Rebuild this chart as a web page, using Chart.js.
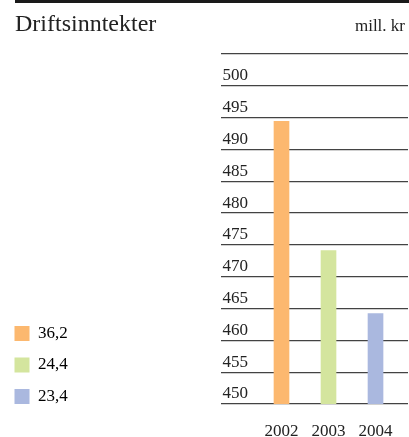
<!DOCTYPE html>
<html>
<head>
<meta charset="utf-8">
<script src="https://cdn.jsdelivr.net/npm/chart.js@4/dist/chart.umd.min.js"></script>
<style>
  html, body { margin: 0; padding: 0; background: #fff; }
  #wrap { position: relative; width: 409px; height: 437px; overflow: hidden; }
  #topline { position: absolute; left: 15px; right: 0; top: 0; height: 3px; background: #1a1a1a; }
  .head { position: absolute; font-family: "Liberation Serif", serif; color: #222; white-space: nowrap; }
  #title { left: 15px; top: 11px; font-size: 24px; line-height: 24px; }
  #unit { right: 4px; top: 17px; font-size: 17px; line-height: 17px; }
  canvas { position: absolute; left: 0; top: 0; }
</style>
</head>
<body>
<div id="wrap">
  <canvas id="chart" width="409" height="437"></canvas>
  <div id="topline"></div>
  <div class="head" id="title">Driftsinntekter</div>
  <div class="head" id="unit">mill. kr</div>
</div>
<script>
// data
const years = ['2002', '2003', '2004'];
const values = [494.4, 474.1, 464.2];
const legendLabels = ['36,2', '24,4', '23,4'];
const colors = ['#FCB86F', '#D4E59E', '#AAB8DF'];
const yMin = 450;
const yMax = 505;
const yStep = 5;

const serif = "'Liberation Serif', 'Times New Roman', serif";

const ctx = document.getElementById('chart');

new Chart(ctx, {
  type: 'bar',
  data: {
    datasets: [{
      data: values.map((v, i) => ({ x: i, y: v })),
      backgroundColor: colors,
      borderWidth: 0,
      barThickness: 15
    }]
  },
  options: {
    responsive: false,
    animation: false,
    layout: { padding: { top: 54, right: 1, bottom: 17.5, left: 0 } },
    plugins: {
      tooltip: { enabled: false },
      legend: {
        position: 'left',
        align: 'end',
        onClick: null,
        labels: {
          boxWidth: 15,
          boxHeight: 15,
          padding: 14.5,
          color: '#222',
          font: { family: serif, size: 17 },
          generateLabels: () => legendLabels.map((t, i) => ({
            text: t,
            fillStyle: colors[i],
            strokeStyle: colors[i],
            lineWidth: 0,
            hidden: false,
            index: i
          }))
        }
      }
    },
    scales: {
      x: {
        type: 'linear',
        min: -1.287,
        max: 2.691,
        offset: false,
        grid: { display: false, offset: false },
        border: { display: false },
        afterBuildTicks: s => { s.ticks = years.map((y, i) => ({ value: i })); },
        afterFit: s => { s.height = 15.5; },
        ticks: {
          // mirrored so the labels are not clipped to the short axis box
          mirror: true,
          padding: -38,
          color: '#222',
          font: { family: serif, size: 17 },
          callback: v => years[v] ?? ''
        }
      },
      y: {
        min: yMin,
        max: yMax,
        z: 1,
        border: { display: false },
        grid: { color: 'rgba(20,20,20,0.8)', lineWidth: 1.2, drawTicks: false },
        afterFit: s => { s.width = 221 - (s.chart.legend ? s.chart.legend.width : 68); },
        ticks: {
          stepSize: yStep,
          mirror: true,
          padding: 1.5,
          labelOffset: -10,
          color: '#222',
          font: { family: serif, size: 17 },
          callback: v => v === yMax ? '' : v
        }
      }
    }
  }
});
</script>
</body>
</html>
